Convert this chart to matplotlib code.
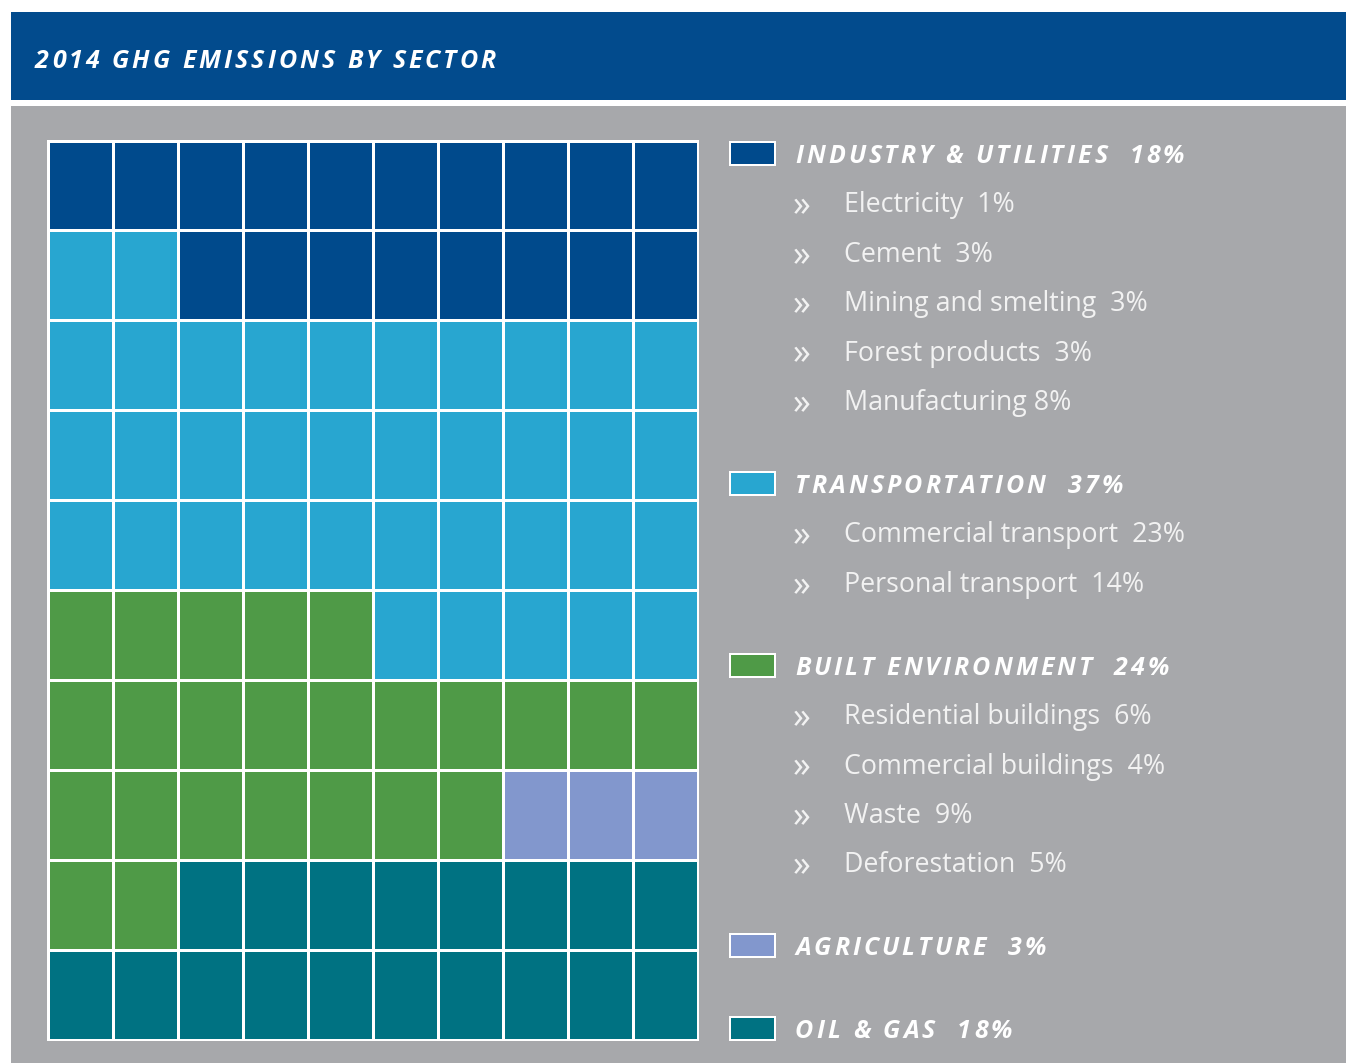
import matplotlib
matplotlib.use('Agg')
import matplotlib.pyplot as plt
import numpy as np
from matplotlib.patches import Rectangle
from matplotlib.font_manager import FontProperties, findfont, get_font

# sector data
sector_names = ['INDUSTRY & UTILITIES', 'TRANSPORTATION', 'BUILT ENVIRONMENT',
                'AGRICULTURE', 'OIL & GAS']
sector_shares = [18, 37, 24, 3, 18]
sector_colors = ['#004a8c', '#28a6d0', '#4f9a47', '#8297cd', '#007282']

# sub items per sector (text as printed)
industry_subs = ['Electricity  1%', 'Cement  3%', 'Mining and smelting  3%',
                 'Forest products  3%', 'Manufacturing 8%']
transport_subs = ['Commercial transport  23%', 'Personal transport  14%']
built_subs = ['Residential buildings  6%', 'Commercial buildings  4%',
              'Waste  9%', 'Deforestation  5%']
sub_items = [industry_subs, transport_subs, built_subs, [], []]

title = '2014 GHG EMISSIONS BY SECTOR'

W, H = 1346, 1063
DPI = 100
header_blue = '#024b8d'
bg_gray = '#a7a8ab'
FONT = 'Open Sans'


def px2pt(px):
    return px * 72.0 / DPI


def tracked_text(ax, x, y, s, size_px, tracking, color='white'):
    # draw text char by char so letters can be spaced out
    prop = FontProperties(family=FONT, weight='bold', style='italic', size=px2pt(size_px))
    font = get_font(findfont(prop))
    font.set_size(px2pt(size_px), DPI)
    for ch in s:
        ax.text(x, y, ch, fontproperties=prop, color=color, va='baseline', ha='left')
        g = font.load_char(ord(ch))
        x += g.linearHoriAdvance / 65536.0 + tracking
    return x


# build the waffle grid: top sectors fill from the top, oil & gas from the bottom
grid = np.full((10, 10), -1)
top_order = [(r, c) for r in range(10) for c in range(9, -1, -1)]
bottom_order = [(r, c) for r in range(9, -1, -1) for c in range(9, -1, -1)]
k = 0
for i in (0, 1):
    for _ in range(sector_shares[i]):
        grid[top_order[k]] = i
        k += 1
k = 0
for _ in range(sector_shares[4]):
    grid[bottom_order[k]] = 4
    k += 1
# agriculture: right end of the lowest free row
for r in range(9, -1, -1):
    if np.all(grid[r] == -1):
        for j in range(sector_shares[3]):
            grid[r, 9 - j] = 3
        break
grid[grid == -1] = 2

fig = plt.figure(figsize=(W / DPI, H / DPI), dpi=DPI)
ax = fig.add_axes([0, 0, 1, 1])
ax.set_xlim(0, W)
ax.set_ylim(H, 0)
ax.axis('off')

# header and background
ax.add_patch(Rectangle((11, 12), W - 11, 88, facecolor=header_blue, edgecolor='none'))
ax.add_patch(Rectangle((11, 106), W - 11, H - 106, facecolor=bg_gray, edgecolor='none'))
tracked_text(ax, 35, 68, title, 25, 3.0)

# waffle cells
gx0, gy0, gx1, gy1 = 48, 141, 698, 1040
cw = (gx1 - gx0) / 10.0
ch = (gy1 - gy0) / 10.0
ax.add_patch(Rectangle((gx0 - 1, gy0 - 1), gx1 - gx0 + 2, gy1 - gy0 + 2,
                       facecolor='white', edgecolor='none'))
for r in range(10):
    for c in range(10):
        ax.add_patch(Rectangle((gx0 + c * cw + 1.5, gy0 + r * ch + 1.5), cw - 3, ch - 3,
                               facecolor=sector_colors[grid[r, c]], edgecolor='none'))

# legend
sub_color = '#f2f2f2'
y = 163
for i, name in enumerate(sector_names):
    ax.add_patch(Rectangle((729, y - 22), 47, 25, facecolor='white', edgecolor='none'))
    ax.add_patch(Rectangle((731, y - 20), 43, 21, facecolor=sector_colors[i], edgecolor='none'))
    tracked_text(ax, 795, y, f'{name}  {sector_shares[i]}%', 25, 3.0)
    for s in sub_items[i]:
        y += 49.4
        ax.text(793, y + 4, '»', fontsize=px2pt(36), family=FONT, color=sub_color,
                va='baseline')
        ax.text(844, y, s, fontsize=px2pt(26.8), family=FONT, color=sub_color,
                va='baseline')
    y += 83

fig.savefig('out.png', dpi=DPI)
